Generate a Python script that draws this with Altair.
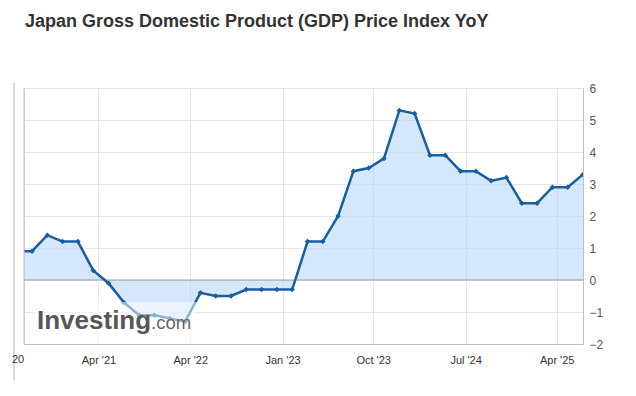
import altair as alt
import pandas as pd

title_text = "Japan Gross Domestic Product (GDP) Price Index YoY"
release_index = list(range(-1, 37))
gdp_yoy = [0.9,
           0.9, 1.4, 1.2, 1.2, 0.3, -0.1, -0.7, -1.1, -1.1, -1.2, -1.3, -0.4,
           -0.5, -0.5, -0.3, -0.3, -0.3, -0.3,
           1.2, 1.2, 2.0, 3.4, 3.5, 3.8, 5.3, 5.2, 3.9, 3.9, 3.4, 3.4,
           3.1, 3.2, 2.4, 2.4, 2.9, 2.9, 3.3]
tick_pos = [4.34, 10.34, 16.37, 22.29, 28.33, 34.28]
tick_labels = ["Apr '21", "Apr '22", "Jan '23", "Oct '23", "Jul '24", "Apr '25"]
y_ticks = [-2, -1, 0, 1, 2, 3, 4, 5, 6]

df = pd.DataFrame({"k": release_index, "v": gdp_yoy})
zero_df = pd.DataFrame({"v": [0]})

line_color = "#1b5e9e"
font = "Liberation Sans"

label_expr = "[" + ",".join('"%s"' % s for s in tick_labels) + "][indexof([" + \
    ",".join(str(p) for p in tick_pos) + "], datum.value)]"

X = alt.X("k:Q", scale=alt.Scale(domain=[-0.523, 36], nice=False, zero=False),
          axis=alt.Axis(values=tick_pos, labelExpr=label_expr, grid=True,
                        gridColor="#e6e6e6", ticks=False, domainColor="#c0c0c0",
                        labelColor="#333333", labelFontSize=11, labelFont=font,
                        labelPadding=10, title=None, labelOverlap=False,
                        labelFlush=False))
Y = alt.Y("v:Q", scale=alt.Scale(domain=[-2, 6], nice=False, zero=False),
          axis=alt.Axis(orient="right", values=y_ticks, grid=True,
                        gridColor="#e6e6e6", ticks=False, domainColor="#c0c0c0",
                        labelColor="#555555", labelFontSize=12, labelFont=font,
                        labelPadding=6, title=None, labelOverlap=False,
                        labelFlush=False))

base = alt.Chart(df).encode(x=X, y=Y)
area = base.mark_area(clip=True, color="#b0d4fa", opacity=0.55).encode(y2=alt.datum(0))
zero = alt.Chart(zero_df).mark_rule(color="#a0a0a0", strokeWidth=1).encode(
    y=Y, x=alt.value(0), x2=alt.value(559))
line = base.mark_line(clip=True, color=line_color, strokeWidth=2.5)
pts = base.mark_point(clip=True, shape="diamond", filled=True, size=30,
                      color=line_color, opacity=1)

one = pd.DataFrame({"t": [""]})
veil = alt.Chart(one).mark_rect(color="white", opacity=0.5).encode(
    x=alt.value(9), x2=alt.value(173), y=alt.value(214), y2=alt.value(255))
wm1 = alt.Chart(pd.DataFrame({"t": ["Investing"]})).mark_text(
    font=font, fontWeight="bold", fontSize=26, color="#575757", align="left",
    baseline="alphabetic").encode(text="t:N", x=alt.value(13), y=alt.value(241))
wm2 = alt.Chart(pd.DataFrame({"t": [".com"]})).mark_text(
    font=font, fontSize=18.5, color="#666666", align="left",
    baseline="alphabetic").encode(text="t:N", x=alt.value(127), y=alt.value(241))
title = alt.Chart(pd.DataFrame({"t": [title_text]})).mark_text(
    font=font, fontWeight="bold", fontSize=18, color="#333333", align="left",
    baseline="alphabetic").encode(text="t:N", x=alt.value(1), y=alt.value(-61))
left_border = alt.Chart(one).mark_rule(color="#c0c0c0").encode(
    x=alt.value(0), y=alt.value(0), y2=alt.value(256))
container = alt.Chart(one).mark_rule(color="#b0b0b0").encode(
    x=alt.value(-10), y=alt.value(-5), y2=alt.value(292))
partial = alt.Chart(pd.DataFrame({"t": ["20"]})).mark_text(
    font=font, fontSize=11, color="#333333", align="left",
    baseline="middle").encode(text="t:N", x=alt.value(-12), y=alt.value(272))

chart = alt.layer(area, zero, line, pts, veil, wm1, wm2, title, left_border,
                  container, partial).properties(
    width=559, height=256,
    padding={"left": 16, "top": 80, "right": 40, "bottom": 40},
    autosize=alt.AutoSizeParams(type="none"),
).configure_view(stroke=None).configure(background="white")

chart.save("out.html", embed_options={"renderer": "svg", "actions": False})
